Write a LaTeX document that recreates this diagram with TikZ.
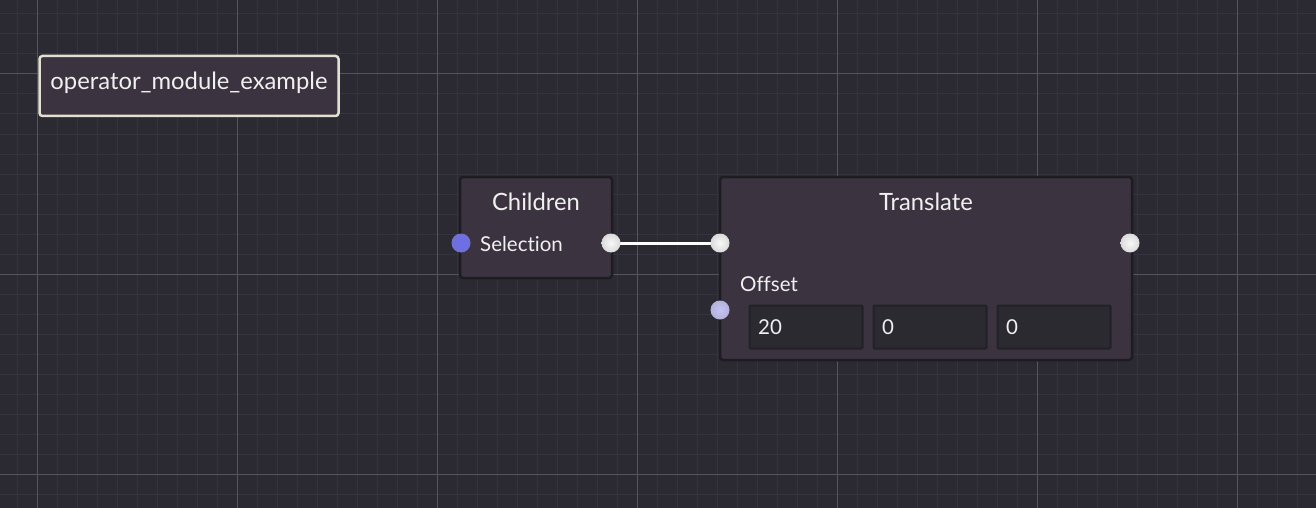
\documentclass[tikz,border=0pt]{standalone}
\usepackage{fontspec}
\setmainfont[Ligatures=NoCommon]{Lato}
\definecolor{bg}{HTML}{2B2A33}
\definecolor{gridminor}{HTML}{35343E}
\definecolor{gridmajor}{HTML}{55545C}
\definecolor{nodefill}{HTML}{3B3440}
\definecolor{nodeedge}{HTML}{1D1C21}
\definecolor{titleedge}{HTML}{E2E0CF}
\definecolor{fieldfill}{HTML}{2B2A31}
\definecolor{fieldedge}{HTML}{222127}
\definecolor{txt}{HTML}{F0F0F0}
\definecolor{portblue}{HTML}{6C6CF0}
\definecolor{portlav}{HTML}{C4C3F6}
\definecolor{portwhite}{HTML}{F8F8F8}
\tikzset{
  opbox/.style={draw=nodeedge, line width=2.5pt, fill=nodefill, rounded corners=3pt, outer sep=0pt},
  titlebox/.style={draw=titleedge, line width=2.5pt, fill=nodefill, rounded corners=3pt, outer sep=0pt},
  fieldbox/.style={draw=fieldedge, line width=2pt, fill=fieldfill, rounded corners=1pt, outer sep=0pt},
  big/.style={text=txt, font=\fontsize{23.8}{26}\selectfont, inner sep=0pt},
  small/.style={text=txt, font=\fontsize{20.5}{22}\selectfont, inner sep=0pt},
  port/.style={circle, minimum size=19pt, inner sep=0pt, shading=radial, inner color=#1, middle color=#1, outer color=#1!75!gray},
  wire/.style={draw=white, line width=3pt},
}
\begin{document}
\begin{tikzpicture}[x=1pt,y=-1pt]
\fill[bg] (0,0) rectangle (1316,508);
\useasboundingbox (0,0) rectangle (1316,508);
% minor grid
\foreach \x in {17,37,...,1317} \draw[gridminor, line width=1pt] (\x,0) -- (\x,508);
\foreach \y in {14,34,...,508} \draw[gridminor, line width=1pt] (0,\y) -- (1316,\y);
% major grid
\foreach \x in {37,237,...,1237} \draw[gridmajor, line width=1pt] (\x,0) -- (\x,508);
\foreach \y in {74,274,474} \draw[gridmajor, line width=1pt] (0,\y) -- (1316,\y);
% title box
\node[titlebox, minimum width=299pt, minimum height=60pt, anchor=north west] (title) at (39.5,56) {};
\node[big, anchor=base] (titletxt) at (189,90) {operator\_module\_example};
% Children node
\node[opbox, minimum width=152pt, minimum height=101pt, anchor=north west] (children) at (460,177) {};
\node[big, anchor=base] (childtitle) at (536,210) {Children};
\node[small, anchor=base west] (sel) at (480,251) {Selection};
% Translate node
\node[opbox, minimum width=412pt, minimum height=183pt, anchor=north west] (translate) at (720,177) {};
\node[big, anchor=base] (trtitle) at (926,210) {Translate};
\node[small, anchor=base west] (offset) at (740,291) {Offset};
% fields
\node[fieldbox, minimum width=113pt, minimum height=43pt, anchor=north west] (f1) at (749.5,305.5) {};
\node[fieldbox, minimum width=113pt, minimum height=43pt, anchor=north west] (f2) at (873.5,305.5) {};
\node[fieldbox, minimum width=113pt, minimum height=43pt, anchor=north west] (f3) at (997.5,305.5) {};
\node[small, anchor=base west] (v1) at (758,334) {20};
\node[small, anchor=base west] (v2) at (882,334) {0};
\node[small, anchor=base west] (v3) at (1006,334) {0};
% wire
\coordinate (wa) at (611,243);
\coordinate (wb) at (720,243);
\draw[wire] (wa) -- (wb);
% ports
\node[port=portblue] (cin) at (461,243) {};
\node[port=portwhite] (cout) at (wa) {};
\node[port=portwhite] (tin) at (wb) {};
\node[port=portwhite] (tout) at (1130,243) {};
\node[port=portlav] (toff) at (720,310) {};
\end{tikzpicture}
\end{document}
